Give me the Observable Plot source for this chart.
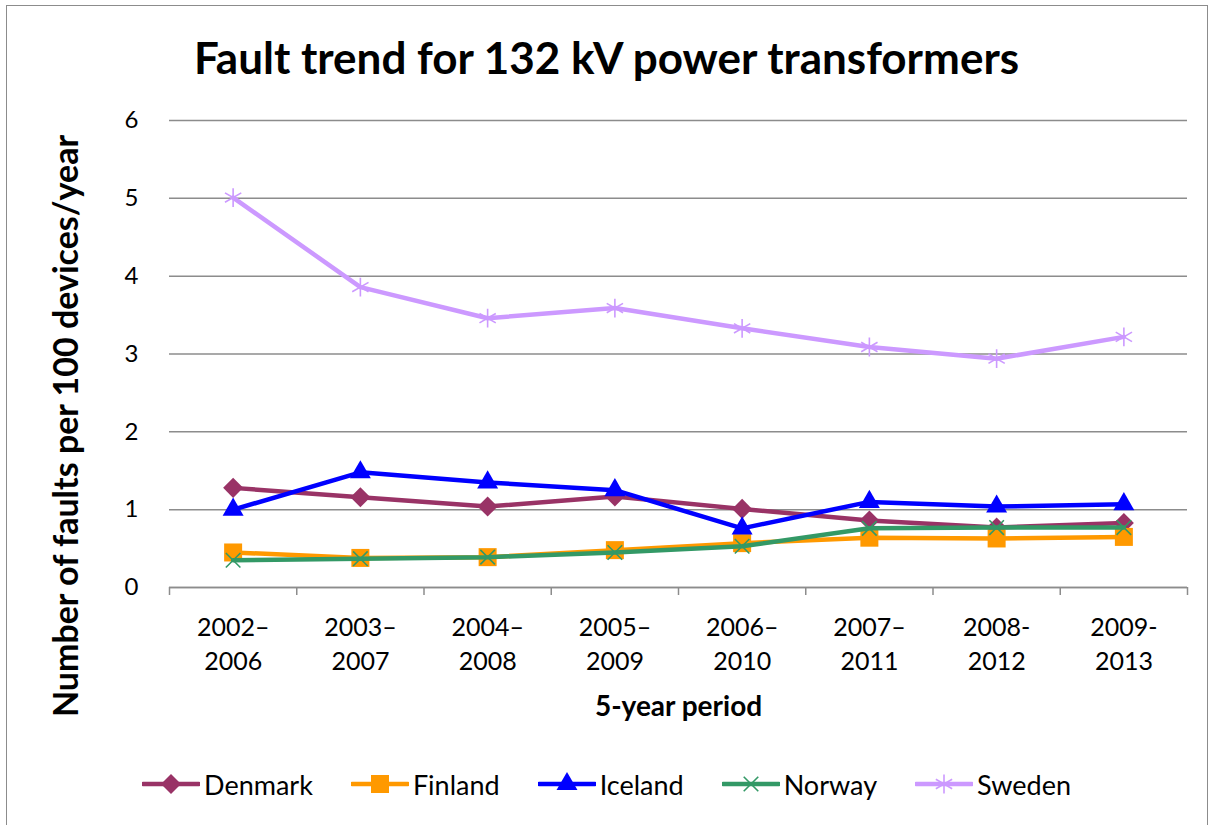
<!DOCTYPE html>
<html><head><meta charset="utf-8">
<script src="https://cdn.jsdelivr.net/npm/d3@7"></script>
<script src="https://cdn.jsdelivr.net/npm/@observablehq/plot@0.6"></script>
<style>
body{margin:0;background:#fff;font-family:Lato,"Noto Sans",sans-serif;color:#000;}
#wrap{position:relative;width:1213px;height:825px;overflow:hidden;background:#fff;}
#frame{position:absolute;left:6px;top:5px;width:1202px;height:840px;border:1.5px solid #8c8c8c;box-sizing:border-box;}
#title{position:absolute;left:0;width:1213px;top:31px;text-align:center;font-weight:700;font-size:44px;line-height:52px;}
#ylab{position:absolute;left:65px;top:426px;transform:translate(-50%,-50%) rotate(-90deg);white-space:nowrap;font-weight:700;font-size:34px;line-height:40px;}
#chart{position:absolute;left:0;top:0;}
#legend{position:absolute;left:0;width:1213px;top:766px;height:36px;display:flex;justify-content:center;align-items:center;gap:38px;font-size:27px;}
.item{display:flex;align-items:center;gap:4px;}
</style></head>
<body>
<div id="wrap">
  <div id="chart"></div>
  <div id="frame"></div>
  <div id="title">Fault trend for 132 kV power transformers</div>
  <div id="ylab">Number of faults per 100 devices/year</div>
  <div id="legend"></div>
</div>
<script>
// ---- data ----
const periods = ["2002–\n2006","2003–\n2007","2004–\n2008","2005–\n2009","2006–\n2010","2007–\n2011","2008-\n2012","2009-\n2013"];
const yTicks = [0,1,2,3,4,5,6];
const countries = ["Denmark","Finland","Iceland","Norway","Sweden"];
const denmark = [1.28,1.16,1.04,1.17,1.01,0.86,0.77,0.83];
const finland = [0.45,0.38,0.39,0.48,0.57,0.64,0.63,0.65];
const iceland = [1.00,1.48,1.35,1.25,0.76,1.10,1.04,1.07];
const norway  = [0.35,0.37,0.39,0.45,0.53,0.76,0.77,0.77];
const sweden  = [5.01,3.86,3.46,3.59,3.33,3.09,2.94,3.22];
const xTitle = "5-year period";

// ---- styles ----
const styles = {
  Denmark:{values:denmark,color:"#993366",symbol:"diamond2",d3sym:d3.symbolDiamond2,size:256,filled:true},
  Finland:{values:finland,color:"#FF9900",symbol:"square",d3sym:d3.symbolSquare,size:324,filled:true},
  Iceland:{values:iceland,color:"#0000FF",symbol:"triangle",d3sym:d3.symbolTriangle,size:190,filled:true},
  Norway:{values:norway,color:"#339966",symbol:"times",d3sym:d3.symbolTimes,size:140,filled:false},
  Sweden:{values:sweden,color:"#CC99FF",symbol:"asterisk",d3sym:d3.symbolAsterisk,size:250,filled:false}
};
const idx = d3.range(periods.length);
const bounds = d3.range(periods.length + 1).map(i => i - 0.5);
const grey = "#8c8c8c";

const seriesMarks = countries.flatMap(c => {
  const s = styles[c];
  return [
    Plot.lineY(s.values, {x:(d,i)=>i, y:d=>d, stroke:s.color, strokeWidth:4.5, strokeLinejoin:"round"}),
    s.filled
      ? Plot.dot(s.values, {x:(d,i)=>i, y:d=>d, symbol:s.symbol, r:Math.sqrt(s.size/Math.PI), fill:s.color, stroke:"none"})
      : Plot.dot(s.values, {x:(d,i)=>i, y:d=>d, symbol:s.symbol, r:Math.sqrt(s.size/Math.PI), fill:"none", stroke:s.color, strokeWidth:1.6})
  ];
});

const chart = Plot.plot({
  width:1213, height:825,
  marginLeft:169, marginRight:26, marginTop:120, marginBottom:238,
  x:{domain:[-0.5, periods.length - 0.5], axis:null},
  y:{domain:[0,6], axis:null},
  style:{fontFamily:"Lato, 'Noto Sans', sans-serif", background:"transparent", color:"#000"},
  marks:[
    Plot.gridY(yTicks, {stroke:grey, strokeOpacity:1, strokeWidth:1.5}),
    Plot.axisY(yTicks, {tickSize:0, tickPadding:31, fontSize:24, label:null, tickFormat:d=>String(d)}),
    Plot.ruleY([0], {stroke:grey, strokeWidth:1.5}),
    Plot.axisX(bounds, {tickSize:8, tickFormat:()=>"", label:null, stroke:grey, strokeWidth:1.5}),
    Plot.text(idx, {x:d=>d, frameAnchor:"bottom", lineAnchor:"top", dy:24, text:d=>periods[d], fontSize:25, lineHeight:1.38}),
    Plot.text([xTitle], {frameAnchor:"bottom", lineAnchor:"top", dy:109, text:d=>d, fontSize:28, fontWeight:"bold"}),
    ...seriesMarks
  ]
});
document.getElementById("chart").appendChild(chart);

// ---- legend ----
const legend = d3.select("#legend");
countries.forEach(c => {
  const s = styles[c];
  const it = legend.append("div").attr("class","item");
  const svg = it.append("svg").attr("width",58).attr("height",26);
  svg.append("line").attr("x1",1).attr("x2",57).attr("y1",13).attr("y2",13)
    .attr("stroke",s.color).attr("stroke-width",4.5).attr("stroke-linecap","round");
  svg.append("path").attr("transform","translate(29,13)")
    .attr("d", d3.symbol(s.d3sym, s.size)())
    .attr("fill", s.filled ? s.color : "none")
    .attr("stroke", s.filled ? "none" : s.color)
    .attr("stroke-width", 1.6);
  it.append("span").text(c);
});
</script>
</body></html>
